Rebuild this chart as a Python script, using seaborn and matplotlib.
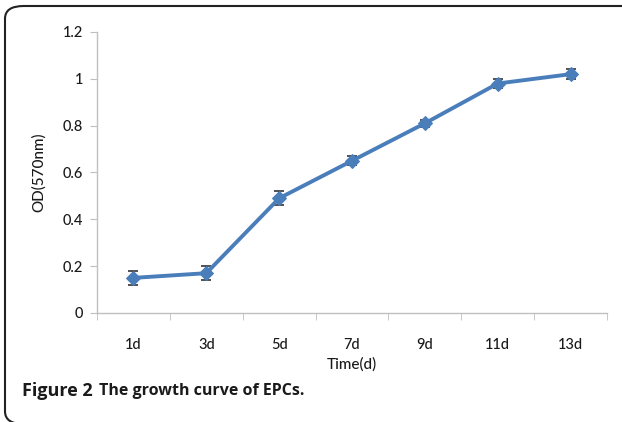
import matplotlib
matplotlib.use("Agg")
import matplotlib.pyplot as plt
import seaborn as sns
import pandas as pd
import numpy as np
from matplotlib.patches import FancyBboxPatch

categories = ["1d", "3d", "5d", "7d", "9d", "11d", "13d"]
od_values = [0.15, 0.17, 0.49, 0.65, 0.81, 0.98, 1.02]
od_errors = [0.03, 0.03, 0.03, 0.02, 0.015, 0.02, 0.02]
y_ticks = [0, 0.2, 0.4, 0.6, 0.8, 1, 1.2]
y_tick_labels = ["0", "0.2", "0.4", "0.6", "0.8", "1", "1.2"]

sns.set_style("white")
plt.rcParams["font.family"] = ["Lato", "DejaVu Sans"]

W, H = 622, 422
fig = plt.figure(figsize=(W / 100, H / 100), dpi=100)
ax = fig.add_axes([97 / W, (H - 313) / H, (607 - 97) / W, (313 - 32) / H])

df = pd.DataFrame({"pos": np.arange(len(categories)), "od": od_values, "err": od_errors})
blue = "#4a7ebb"
ax.errorbar(df["pos"], df["od"], yerr=df["err"], fmt="none", ecolor="#333333",
            elinewidth=1.2, capsize=3.5, capthick=1.2, zorder=2)
sns.lineplot(data=df, x="pos", y="od", ax=ax, color=blue, linewidth=2.8,
             marker="D", markersize=7, markeredgecolor=blue, zorder=3)

ax.set_xlim(-0.5, len(categories) - 0.5)
ax.set_ylim(0, 1.2)
ax.set_xticks(df["pos"])
ax.set_xticklabels(categories)
ax.set_xticks(np.arange(-0.5, len(categories), 1.0), minor=True)
ax.set_yticks(y_ticks)
ax.set_yticklabels(y_tick_labels)

for s in ["top", "right"]:
    ax.spines[s].set_visible(False)
for s in ["left", "bottom"]:
    ax.spines[s].set_color("#bfbfbf")
    ax.spines[s].set_linewidth(1.0)

ax.tick_params(axis="x", which="major", length=0, pad=18, labelsize=10.5, colors="#1a1a1a")
ax.tick_params(axis="x", which="minor", length=5, color="#bfbfbf", direction="out", bottom=True)
ax.tick_params(axis="y", which="major", length=5, color="#bfbfbf", direction="out", left=True,
               labelsize=10.5, labelcolor="#1a1a1a", pad=5)
for lab in ax.get_xticklabels() + ax.get_yticklabels():
    lab.set_fontweight("medium")

ax.set_xlabel("Time(d)", fontsize=11, color="#1a1a1a", labelpad=4, fontweight="medium")
ax.set_ylabel("OD(570nm)", fontsize=11, color="#1a1a1a", labelpad=12, fontweight="medium")

y_cap = 1 - 391 / H
t1 = fig.text(22 / W, y_cap, "Figure 2", fontsize=13, fontweight="bold",
              color="#1a1a1a", va="center", ha="left", family=["Open Sans", "DejaVu Sans"])
fig.canvas.draw()
r = fig.canvas.get_renderer()
e1 = t1.get_window_extent(r)
t2 = fig.text((e1.x1 + 6) / W, y_cap, "The growth curve of EPCs.", fontsize=11.5,
              fontweight="bold", color="#1a1a1a", va="center", ha="left",
              family=["Open Sans", "DejaVu Sans"])

box = FancyBboxPatch((5 / W, -2 / H), 700 / W, (H - 6 + 2) / H,
                     boxstyle="round,pad=0,rounding_size=0.03",
                     transform=fig.transFigure, fill=False, edgecolor="#222222",
                     linewidth=1.5, clip_on=False)
fig.patches.append(box)

fig.savefig("out.png", dpi=100)
